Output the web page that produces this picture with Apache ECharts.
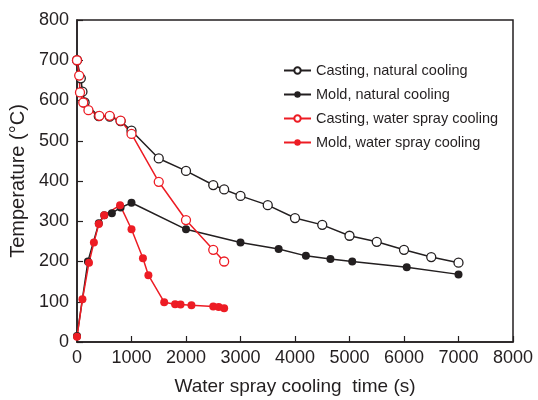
<!DOCTYPE html>
<html>
<head>
<meta charset="utf-8">
<script src="https://cdn.jsdelivr.net/npm/echarts@6/dist/echarts.min.js"></script>
<style>
html,body{margin:0;padding:0;background:#fff;}
#main{width:538px;height:400px;}
</style>
</head>
<body>
<div id="main"></div>
<script>
// 数据 (时间 s, 温度 °C)
var castingNatural = [[0,700],[70,655],[100,622],[140,595],[400,561],[600,560],[800,549],[1000,525],[1500,456],[2000,425],[2500,390],[2700,379],[3000,363],[3500,340],[4000,308],[4500,291],[5000,264],[5500,249],[6000,229],[6500,211],[7000,197]];
var moldNatural = [[0,15],[200,200],[400,295],[500,315],[640,320],[800,334],[1000,346],[2000,280],[3000,247],[3700,231],[4200,214],[4650,206],[5050,200],[6050,186],[7000,168]];
var castingSpray = [[0,700],[40,662],[55,620],[115,595],[210,576],[410,562],[600,562],[800,550],[1000,517],[1500,398],[2000,303],[2500,229],[2700,200]];
var moldSpray = [[0,13],[100,106],[220,197],[310,247],[400,293],[500,315],[790,340],[1000,280],[1210,208],[1310,166],[1600,99],[1800,94],[1900,93],[2100,91],[2500,88],[2600,87],[2700,84]];
var seriesNames = ['Casting, natural cooling','Mold, natural cooling','Casting, water spray cooling','Mold, water spray cooling'];

var myChart = echarts.init(document.getElementById('main'));
var font = 'Liberation Sans, Arial, sans-serif';

function mk(name, data, color, open) {
    return {
        name: name,
        type: 'line',
        data: data,
        symbol: 'circle',
        symbolSize: open ? 9 : 8,
        showSymbol: true,
        itemStyle: {
            color: open ? '#fff' : color,
            borderColor: color,
            borderWidth: open ? 1.3 : 0
        },
        lineStyle: {color: color, width: 1.5},
        emphasis: {disabled: true},
        animation: false
    };
}

var option = {
    backgroundColor: '#fff',
    grid: {
        left: 77, right: 25, top: 20, bottom: 58,
        outerBoundsMode: 'none',
        containLabel: false,
        show: true,
        borderColor: '#231f20',
        borderWidth: 1.5
    },
    legend: {
        orient: 'vertical',
        left: 283,
        top: 63,
        padding: 0,
        itemGap: 9,
        itemWidth: 27,
        itemHeight: 8,
        data: seriesNames,
        textStyle: {fontFamily: font, fontSize: 14.5, color: '#231f20'}
    },
    xAxis: {
        type: 'value',
        min: 0, max: 8000, interval: 1000,
        name: 'Water spray cooling  time (s)',
        nameLocation: 'middle',
        nameGap: 35,
        nameTextStyle: {fontFamily: font, fontSize: 19, color: '#231f20'},
        axisLine: {lineStyle: {color: '#231f20', width: 1.5}},
        axisTick: {inside: true, length: 6, lineStyle: {color: '#231f20', width: 1.2}},
        axisLabel: {fontFamily: font, fontSize: 18, color: '#231f20', margin: 7,
            formatter: function (v) { return String(v); }},
        splitLine: {show: false}
    },
    yAxis: {
        type: 'value',
        min: 0, max: 800, interval: 100,
        name: 'Temperature (°C)',
        nameLocation: 'middle',
        nameGap: 49,
        nameTextStyle: {fontFamily: font, fontSize: 20, color: '#231f20'},
        axisLine: {lineStyle: {color: '#231f20', width: 1.5}},
        axisTick: {inside: true, length: 6, lineStyle: {color: '#231f20', width: 1.2}},
        axisLabel: {fontFamily: font, fontSize: 18, color: '#231f20', margin: 8},
        splitLine: {show: false}
    },
    series: [
        mk(seriesNames[0], castingNatural, '#231f20', true),
        mk(seriesNames[1], moldNatural, '#231f20', false),
        mk(seriesNames[2], castingSpray, '#ed1c24', true),
        mk(seriesNames[3], moldSpray, '#ed1c24', false)
    ]
};

myChart.setOption(option);
</script>
</body>
</html>
